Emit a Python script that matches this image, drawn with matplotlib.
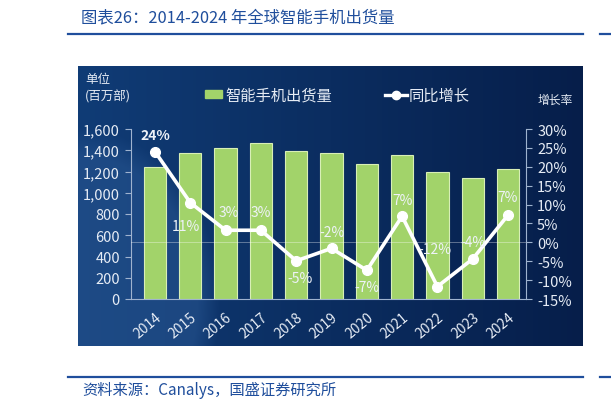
import numpy as np
import matplotlib
matplotlib.use("Agg")
import matplotlib.pyplot as plt
from matplotlib.ticker import FuncFormatter

plt.rcParams['font.family'] = ['Noto Sans CJK SC', 'DejaVu Sans']

years = ['2014', '2015', '2016', '2017', '2018', '2019', '2020', '2021', '2022', '2023', '2024']
shipments = [1245, 1377, 1421, 1465, 1396, 1377, 1271, 1359, 1198, 1142, 1224]
growth = [24.0, 10.5, 3.2, 3.2, -4.9, -1.6, -7.4, 6.9, -11.7, -4.4, 7.2]
growth_labels = ['24%', '11%', '3%', '3%', '-5%', '-2%', '-7%', '7%', '-12%', '-4%', '7%']

W, H = 611, 410
fig = plt.figure(figsize=(W / 100, H / 100), dpi=100)
fig.patch.set_facecolor('white')

def fx(px):
    return px / W

def fy(py):
    return 1 - py / H

blue = '#1f4e9c'
fig.text(fx(81), fy(18), '图表26：2014-2024 年全球智能手机出货量', color=blue,
         fontsize=11.8, style='italic', va='center', ha='left')
fig.add_artist(plt.Line2D([fx(68), fx(583)], [fy(35), fy(35)], color=blue, lw=1.6))
fig.add_artist(plt.Line2D([fx(600), fx(611)], [fy(35), fy(35)], color=blue, lw=1.6))
fig.add_artist(plt.Line2D([fx(68), fx(583)], [fy(378), fy(378)], color=blue, lw=1.6))
fig.add_artist(plt.Line2D([fx(600), fx(611)], [fy(378), fy(378)], color=blue, lw=1.6))
fig.text(fx(82), fy(390), '资料来源：Canalys，国盛证券研究所', color=blue,
         fontsize=11, style='italic', va='center', ha='left')

# dark blue panel background
pl, pt, pr, pb = 78, 67, 583, 347
pw, ph = pr - pl, pb - pt
bg = fig.add_axes([fx(pl), fy(pb), pw / W, ph / H], zorder=0)
xx, yy = np.meshgrid(np.arange(pw), np.arange(ph))
t = xx / pw
c1 = np.array([16, 60, 118])
c2 = np.array([6, 30, 74])
img = c1[None, None, :] * (1 - t[..., None]) + c2[None, None, :] * t[..., None]
d = np.sqrt((xx / 135.0) ** 2 + ((yy - 235) / 165.0) ** 2)
k = np.clip((1.05 - d) * 6, 0, 1) * 0.55
light = np.array([40, 86, 146])
img = img * (1 - k[..., None]) + light[None, None, :] * k[..., None]
bg.imshow(img.astype(np.uint8), aspect='auto', extent=[0, 1, 0, 1])
bg.axis('off')

# main chart
ax = fig.add_axes([fx(131), fy(300), fx(526) - fx(131), (300 - 130) / H], zorder=2)
ax.patch.set_alpha(0)
x = np.arange(len(years))
ax.bar(x, shipments, width=0.63, color='#a2d36a', edgecolor='#d8efb6', linewidth=0.8, zorder=2)
ax.set_xlim(-0.68, 10.51)
ax.set_ylim(0, 1600)
ax.set_yticks(range(0, 1601, 200))
ax.yaxis.set_major_formatter(FuncFormatter(lambda v, p: f'{int(v):,}'))
ax.set_xticks(x)
ax.set_xticklabels(years, rotation=40, ha='right', rotation_mode='anchor')
txt = '#e6ecf5'
spc = '#9fb3cf'
ax.tick_params(axis='y', colors=spc, labelcolor=txt, labelsize=10.5, length=4, width=0.8, pad=4)
ax.tick_params(axis='x', length=0, labelcolor=txt, labelsize=10, pad=8)
for s in ['top', 'right']:
    ax.spines[s].set_visible(False)
ax.spines['left'].set_color(spc)
ax.spines['bottom'].set_color(spc)

ax2 = ax.twinx()
ax2.set_zorder(3)
ax2.set_ylim(-15, 30)
ax2.set_yticks(range(-15, 31, 5))
ax2.yaxis.set_major_formatter(FuncFormatter(lambda v, p: f'{int(v)}%'))
ax2.tick_params(axis='y', colors=spc, labelcolor=txt, labelsize=10.5, length=4, width=0.8, pad=4)
for s in ['top', 'left', 'bottom']:
    ax2.spines[s].set_visible(False)
ax2.spines['right'].set_color(spc)
ax2.axhline(0, color='white', lw=0.7, alpha=0.35, zorder=1)
ax2.plot(x, growth, color='white', lw=2.6, marker='o', ms=7, zorder=4)

offsets = [(0, 12), (-3, -17), (2, 13), (0, 13), (3, -12), (0, 12), (0, -12),
           (0, 12), (-2, 27), (0, 12), (0, 13)]
for i, (lab, off) in enumerate(zip(growth_labels, offsets)):
    ax2.annotate(lab, (x[i], growth[i]), xytext=off, textcoords='offset points',
                 ha='center', va='center', color='#eef2f8', fontsize=10,
                 fontweight='bold' if i == 0 else 'normal', zorder=5)

# legend and unit texts
fig.text(fx(85), fy(80), '单位', color=txt, fontsize=9, va='center', zorder=4)
fig.text(fx(85), fy(97), '(百万部)', color=txt, fontsize=9, va='center', zorder=4)
fig.patches.append(plt.Rectangle((fx(205), fy(99)), 17 / W, 8 / H, transform=fig.transFigure,
                                 color='#a2d36a', zorder=4))
fig.text(fx(225), fy(96), '智能手机出货量', color=txt, fontsize=11, va='center', zorder=4)
fig.add_artist(plt.Line2D([fx(385), fx(407)], [fy(96), fy(96)], color='white', lw=2.4, zorder=4))
fig.add_artist(plt.Line2D([fx(396)], [fy(96)], color='white', marker='o', ms=6, zorder=4))
fig.text(fx(409), fy(96), '同比增长', color=txt, fontsize=11, va='center', zorder=4)
fig.text(fx(538), fy(100), '增长率', color=txt, fontsize=8.5, va='center', zorder=4)

fig.savefig('out.png', dpi=100)
